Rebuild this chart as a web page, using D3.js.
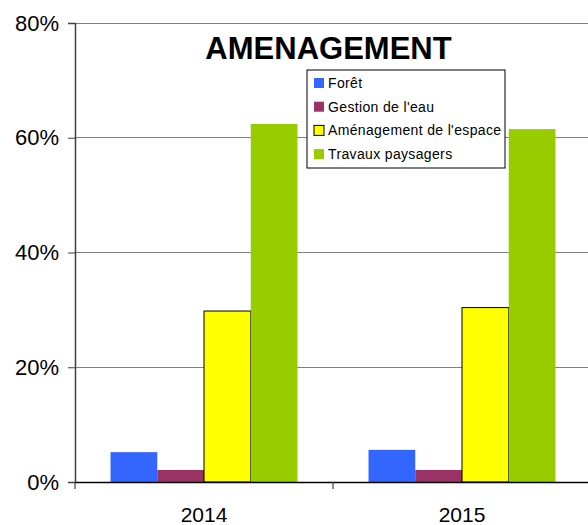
<!DOCTYPE html>
<html><head><meta charset="utf-8">
<script src="https://cdn.jsdelivr.net/npm/d3@7"></script>
<style>body{margin:0;background:#fff;} svg{display:block;font-family:"Liberation Sans",Arial,sans-serif;}</style>
</head><body><svg id="c" width="588" height="525"></svg>
<script>
const categories = ["2014", "2015"];
const seriesNames = ["Forêt", "Gestion de l'eau", "Aménagement de l'espace", "Travaux paysagers"];
const foret = [0.052, 0.056];
const gestionEau = [0.021, 0.021];
const amenagementEspace = [0.298, 0.304];
const travauxPaysagers = [0.624, 0.615];
const yTicks = [0, 0.2, 0.4, 0.6, 0.8];
const colors = ["#3366FF", "#993366", "#FFFF00", "#99CC00"];
const title = "AMENAGEMENT";

const series = [foret, gestionEau, amenagementEspace, travauxPaysagers];
const svg = d3.select("#c");
const mLeft = 75, mRight = 591, mTop = 23, mBottom = 482;

const x = d3.scaleBand().domain(categories).range([mLeft, mRight]).paddingInner(0).paddingOuter(0);
const xs = d3.scaleBand().domain(d3.range(series.length)).range([0, x.bandwidth()]).paddingInner(0).paddingOuter(0.76);
const y = d3.scaleLinear().domain([0, 0.8]).range([mBottom, mTop]);

// gridlines
svg.append("g").selectAll("line").data(yTicks.filter(d => d > 0)).join("line")
  .attr("x1", mLeft).attr("x2", mRight).attr("y1", d => y(d)).attr("y2", d => y(d))
  .attr("stroke", "#808080").attr("stroke-width", 1).attr("shape-rendering", "crispEdges");

// bars
const groups = svg.append("g").selectAll("g").data(categories).join("g")
  .attr("transform", d => `translate(${x(d)},0)`);
groups.selectAll("rect").data((c, i) => series.map((s, k) => ({k, v: s[i]}))).join("rect")
  .attr("x", d => xs(d.k)).attr("width", xs.bandwidth())
  .attr("y", d => y(d.v)).attr("height", d => y(0) - y(d.v))
  .attr("fill", d => colors[d.k])
  .attr("stroke", d => d.k === 2 ? "#000" : "none").attr("stroke-width", 1);

// y axis
const yAxis = d3.axisLeft(y).tickValues(yTicks).tickFormat(d3.format(".0%")).tickSize(7).tickPadding(9);
const gy = svg.append("g").attr("transform", `translate(${mLeft},0)`).call(yAxis);
gy.select(".domain").attr("stroke", "#404040").attr("stroke-width", 1.5);
gy.selectAll(".tick line").attr("stroke", "#404040");
gy.selectAll(".tick text").attr("font-size", 22).attr("fill", "#000").attr("font-family", "Liberation Sans, Arial, sans-serif");

// x axis
const gx = svg.append("g").attr("transform", `translate(0,${mBottom})`)
  .call(d3.axisBottom(x).tickSize(0).tickPadding(25));
gx.select(".domain").attr("stroke", "#000").attr("stroke-width", 1.5);
gx.selectAll(".tick text").attr("font-size", 21).attr("fill", "#000").attr("font-family", "Liberation Sans, Arial, sans-serif");
svg.append("g").selectAll("line").data([mLeft, x("2015")]).join("line")
  .attr("x1", d => d).attr("x2", d => d).attr("y1", mBottom).attr("y2", mBottom + 7)
  .attr("stroke", "#404040").attr("stroke-width", 1.2);

// title
svg.append("text").attr("x", 328.5).attr("y", 59).attr("text-anchor", "middle")
  .attr("font-size", 31).attr("font-weight", "bold").text(title);

// legend
const lg = svg.append("g").attr("transform", "translate(307,70)");
lg.append("rect").attr("width", 198).attr("height", 98).attr("fill", "#fff")
  .attr("stroke", "#000").attr("stroke-width", 1);
const rows = lg.selectAll("g").data(seriesNames).join("g")
  .attr("transform", (d, i) => `translate(7,${13 + i * 23.7})`);
rows.append("rect").attr("x", 0).attr("y", -5).attr("width", 10).attr("height", 10)
  .attr("fill", (d, i) => colors[i]).attr("stroke", (d, i) => i === 2 ? "#000" : "none");
rows.append("text").attr("x", 14).attr("y", 5).attr("font-size", 14).attr("letter-spacing", 0.35).text(d => d);
</script></body></html>
